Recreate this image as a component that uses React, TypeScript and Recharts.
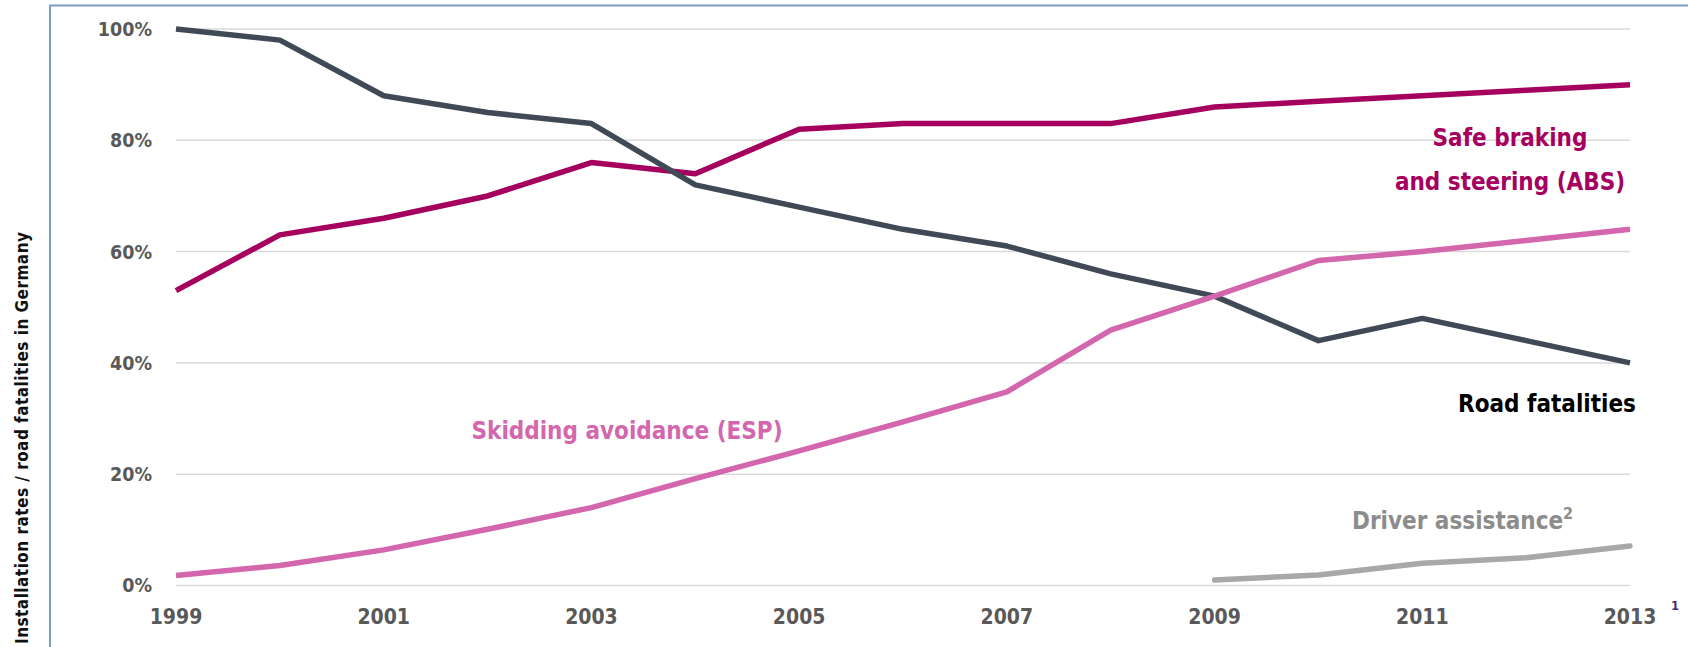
import React from 'react';
import { LineChart, Line, XAxis, YAxis, CartesianGrid } from 'recharts';

const years = [1999, 2000, 2001, 2002, 2003, 2004, 2005, 2006, 2007, 2008, 2009, 2010, 2011, 2012, 2013];
const roadFatalities = [100, 98, 88, 85, 83, 72, 68, 64, 61, 56, 52, 44, 48, 44, 40];
const absRate = [53, 63, 66, 70, 76, 74, 82, 83, 83, 83, 86, 87, 88, 89, 90];
const espRate = [1.8, 3.6, 6.4, 10.1, 14.0, 19.2, 24.2, 29.4, 34.8, 45.9, 52, 58.4, 60, 62, 64];
const driverAssist = [null, null, null, null, null, null, null, null, null, null, 1, 1.9, 4.0, 5.0, 7.1];

const yTicks = [0, 20, 40, 60, 80, 100];
const xTicks = [1999, 2001, 2003, 2005, 2007, 2009, 2011, 2013];

const data = years.map((year, i) => ({
  year,
  road: roadFatalities[i],
  abs: absRate[i],
  esp: espRate[i],
  driver: driverAssist[i],
}));

const W = 1688;
const H = 647;
const FONT = '"DejaVu Sans Condensed", "DejaVu Sans", sans-serif';

const C_ROAD = '#404a57';
const C_ABS = '#a6005f';
const C_ESP = '#d366ad';
const C_DRIVER = '#a8a8a8';

export default function App() {
  return (
    <div style={{ position: 'absolute', left: 0, top: 0, width: W, height: H, background: '#fff', fontFamily: FONT }}>
      <LineChart
        width={W}
        height={H}
        data={data}
        margin={{ top: 29, right: 58, left: 0, bottom: 0 }}
      >
        <CartesianGrid vertical={false} stroke="#d9d9d9" strokeWidth={1.5} />
        <XAxis
          dataKey="year"
          type="number"
          domain={[1999, 2013]}
          ticks={xTicks}
          axisLine={false}
          tickLine={false}
          tickSize={0}
          tickMargin={24}
          height={61.5}
          interval={0}
          tick={{ fill: '#595959', fontSize: 21, fontWeight: 'bold', fontFamily: FONT }}
        />
        <YAxis
          type="number"
          domain={[0, 100]}
          ticks={yTicks}
          width={176}
          axisLine={false}
          tickLine={false}
          tickSize={0}
          tickMargin={24}
          interval={0}
          tickFormatter={(v) => `${v}%`}
          tick={{ fill: '#595959', fontSize: 19.5, fontWeight: 'bold', fontFamily: FONT }}
        />
        <Line type="linear" dataKey="abs" stroke={C_ABS} strokeWidth={5.5} dot={false} activeDot={false} isAnimationActive={false} strokeLinejoin="round" />
        <Line type="linear" dataKey="road" stroke={C_ROAD} strokeWidth={5.5} dot={false} activeDot={false} isAnimationActive={false} strokeLinejoin="round" />
        <Line type="linear" dataKey="esp" stroke={C_ESP} strokeWidth={5.5} dot={false} activeDot={false} isAnimationActive={false} strokeLinejoin="round" />
        <Line type="linear" dataKey="driver" stroke={C_DRIVER} strokeWidth={5.5} dot={false} activeDot={false} isAnimationActive={false} strokeLinecap="round" strokeLinejoin="round" connectNulls={false} />
      </LineChart>
      <svg
        width={W}
        height={H}
        style={{ position: 'absolute', left: 0, top: 0, pointerEvents: 'none' }}
      >
        <path d={`M50,${H} L50,5.5 L${W},5.5`} fill="none" stroke="#7aa0c6" strokeWidth={2} />
        <text
          transform="translate(27.5,438) rotate(-90)"
          textAnchor="middle"
          fontFamily={FONT}
          fontWeight="bold"
          fontSize={17}
          fill="#111"
          textLength={412}
          lengthAdjust="spacing"
        >
          Installation rates / road fatalities in Germany
        </text>
        <g fontFamily={FONT} fontWeight="bold" fontSize={24}>
          <text x={1510} y={146} textAnchor="middle" fill={C_ABS}>Safe braking</text>
          <text x={1510} y={190} textAnchor="middle" fill={C_ABS}>and steering (ABS)</text>
          <text x={1547} y={412} textAnchor="middle" fill="#000">Road fatalities</text>
          <text x={627} y={439} textAnchor="middle" fill={C_ESP}>Skidding avoidance (ESP)</text>
          <text x={1352} y={529} textAnchor="start" fill="#8c8c8c">
            Driver assistance
            <tspan fontSize={16} dy={-10}>2</tspan>
          </text>
        </g>
        <text x={1675} y={610} fontFamily={FONT} fontWeight="bold" fontSize={13} fill="#4b2a7b" textAnchor="middle">1</text>
      </svg>
    </div>
  );
}
